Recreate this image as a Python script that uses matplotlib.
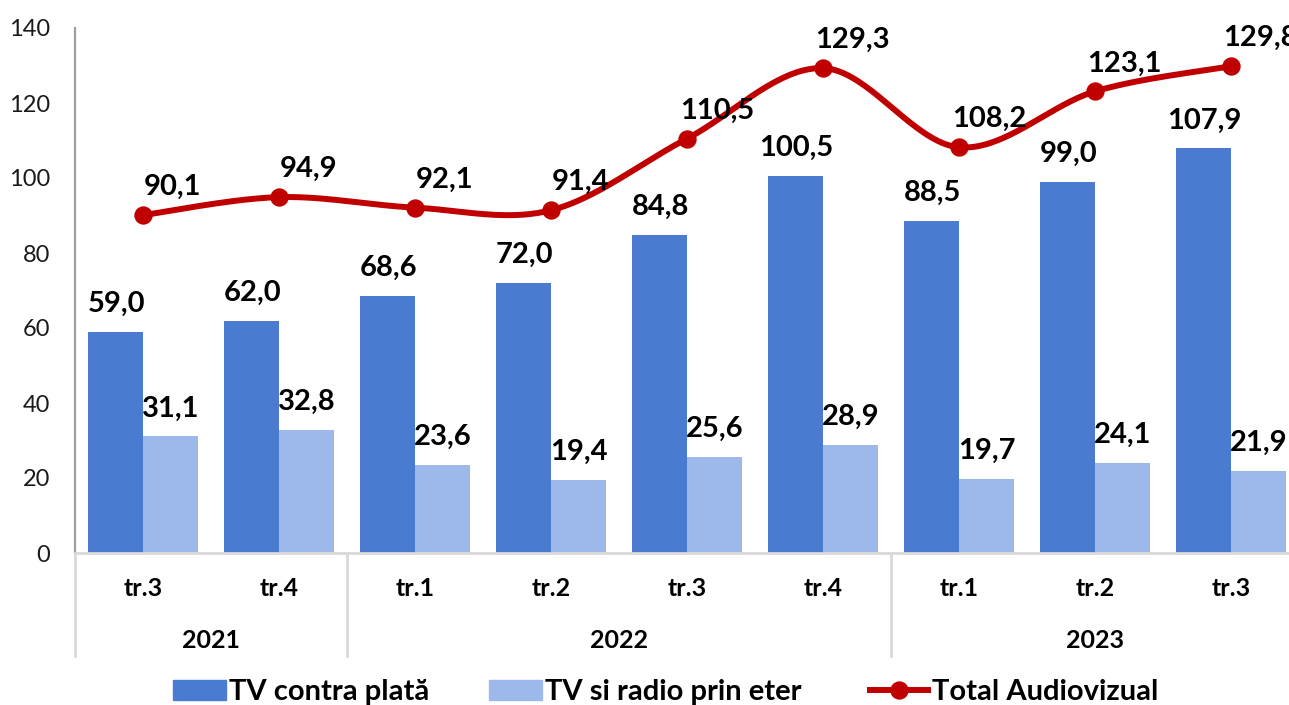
import matplotlib
matplotlib.use("Agg")
import matplotlib.pyplot as plt
import matplotlib.transforms as mtransforms
import numpy as np
from matplotlib.lines import Line2D
from matplotlib.patches import Patch

# ---- data ----
quarters = ["tr.3", "tr.4", "tr.1", "tr.2", "tr.3", "tr.4", "tr.1", "tr.2", "tr.3"]
years = ["2021", "2022", "2023"]
quarters_per_year = [2, 4, 3]
tv_plata = [59.0, 62.0, 68.6, 72.0, 84.8, 100.5, 88.5, 99.0, 107.9]
tv_radio = [31.1, 32.8, 23.6, 19.4, 25.6, 28.9, 19.7, 24.1, 21.9]
total = [90.1, 94.9, 92.1, 91.4, 110.5, 129.3, 108.2, 123.1, 129.8]
series_names = ["TV contra plată", "TV si radio prin eter", "Total Audiovizual"]
yticks = [0, 20, 40, 60, 80, 100, 120, 140]

C_DARK = "#4A7BD1"
C_LIGHT = "#9DB8EA"
C_RED = "#C00000"
FONT = ["Lato", "DejaVu Sans"]

plt.rcParams["font.family"] = FONT


def fmt(v):
    return f"{v:.1f}".replace(".", ",")


def catmull_rom(xs, ys, n=40):
    P = np.column_stack([xs, ys]).astype(float)
    P = np.vstack([P[0], P, P[-1]])
    out = []
    for i in range(1, len(P) - 2):
        p0, p1, p2, p3 = P[i - 1], P[i], P[i + 1], P[i + 2]
        t = np.linspace(0, 1, n)[:, None]
        seg = 0.5 * ((2 * p1) + (-p0 + p2) * t + (2 * p0 - 5 * p1 + 4 * p2 - p3) * t ** 2
                     + (-p0 + 3 * p1 - 3 * p2 + p3) * t ** 3)
        out.append(seg if i == 1 else seg[1:])
    out = np.vstack(out)
    return out[:, 0], out[:, 1]


W, H = 1289, 705
fig = plt.figure(figsize=(W / 100, H / 100), dpi=100)
ax_left, ax_right, ax_bottom, ax_top = 75, 1299, 553, 28
ax = fig.add_axes([ax_left / W, (H - ax_bottom) / H, (ax_right - ax_left) / W, (ax_bottom - ax_top) / H])

x = np.arange(len(quarters))
bw = 0.408
ax.bar(x - bw / 2, tv_plata, bw, color=C_DARK, zorder=2)
ax.bar(x + bw / 2, tv_radio, bw, color=C_LIGHT, zorder=2)

LW, MS = 4.3, 12.2
sx, sy = catmull_rom(x, total)
ax.plot(sx, sy, color=C_RED, lw=LW, solid_capstyle="round", zorder=3)
ax.plot(x, total, ls="none", marker="o", ms=MS, color=C_RED, zorder=4)

lab_kw = dict(textcoords="offset points", ha="center", va="baseline",
              fontsize=21, fontweight="bold", color="black", zorder=5,
              annotation_clip=False)
for xi, v in zip(x - bw / 2, tv_plata):
    ax.annotate(fmt(v), (xi, v), xytext=(1.0, 14.4), **lab_kw)
for xi, v in zip(x + bw / 2, tv_radio):
    ax.annotate(fmt(v), (xi, v), xytext=(0, 14.4), **lab_kw)
for xi, v in zip(x, total):
    ax.annotate(fmt(v), (xi, v), xytext=(21.5, 14.4), **lab_kw)

ax.set_xlim(-0.5, len(quarters) - 0.5)
ax.set_ylim(0, 140)
ax.set_yticks(yticks)
ax.set_yticklabels([str(t) for t in yticks], fontsize=17, color="#1a1a1a")
ax.tick_params(axis="y", length=0, pad=18)
ax.set_xticks([])

for s in ["top", "right"]:
    ax.spines[s].set_visible(False)
ax.spines["left"].set_color("#A0A0A0")
ax.spines["left"].set_linewidth(1.6)
ax.spines["bottom"].set_color("#D9D9D9")
ax.spines["bottom"].set_linewidth(2)

trans = mtransforms.blended_transform_factory(ax.transData, ax.transAxes)
q_y = (ax_bottom - 589) / (ax_bottom - ax_top)
y_y = (ax_bottom - 640) / (ax_bottom - ax_top)
sep_y = (ax_bottom - 656) / (ax_bottom - ax_top)
for xi, q in zip(x, quarters):
    ax.text(xi, q_y, q, transform=trans, ha="center", va="center",
            fontsize=18, fontweight="bold", color="black")

start = 0
bounds = [-0.5]
for yr, n in zip(years, quarters_per_year):
    mid = start + (n - 1) / 2
    ax.text(mid, y_y, yr, transform=trans, ha="center", va="center",
            fontsize=18, fontweight="bold", color="black")
    start += n
    bounds.append(start - 0.5)
for b in bounds:
    ax.plot([b, b], [0, sep_y], transform=trans, color="#D9D9D9", lw=2, clip_on=False, zorder=1)

# legend: one entry per legend box, anchored at the handle's left edge
handles = [Patch(facecolor=C_DARK, edgecolor=C_DARK),
           Patch(facecolor=C_LIGHT, edgecolor=C_LIGHT),
           Line2D([0], [0], color=C_RED, lw=LW, marker="o", ms=MS)]
handle_left_px = [173, 489, 870]
handle_len = [1.8, 1.8, 2.0]
leg_y = (H - 692) / H
for h, name, xl, hl in zip(handles, series_names, handle_left_px, handle_len):
    fig.legend([h], [name], loc="center left", bbox_to_anchor=(xl / W, leg_y),
               frameon=False, prop={"family": FONT, "weight": "bold", "size": 21},
               handlelength=hl, handleheight=0.7, handletextpad=0.12,
               borderaxespad=0, borderpad=0)

fig.savefig("out.png", dpi=100)
